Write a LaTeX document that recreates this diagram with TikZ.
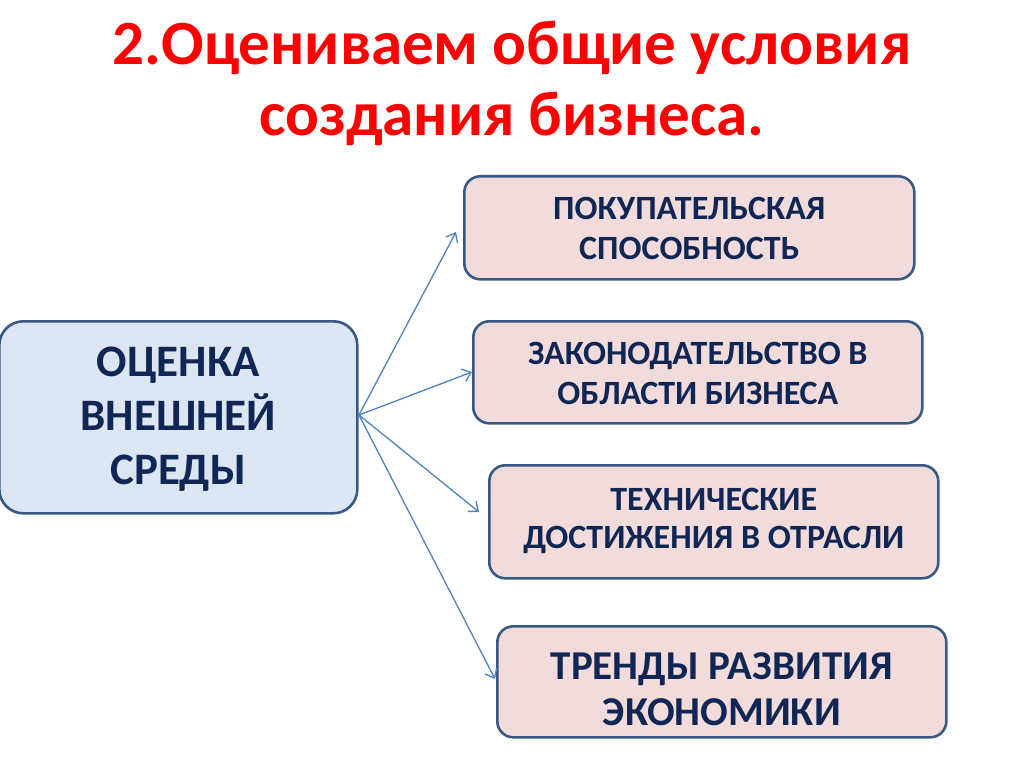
\documentclass[tikz,border=0pt]{standalone}
\usepackage{fontspec}
\usetikzlibrary{arrows.meta}
\setmainfont{Carlito}
\definecolor{edgec}{RGB}{56,88,134}
\definecolor{pinkf}{RGB}{242,220,219}
\definecolor{bluef}{RGB}{220,230,242}
\definecolor{txtc}{RGB}{16,38,84}
\definecolor{arrc}{RGB}{79,129,189}
\definecolor{titlec}{RGB}{255,0,0}
\begin{document}
\begin{tikzpicture}[x=1pt,y=-1pt,
  box/.style={draw=edgec,line width=2.6pt,rounded corners=16pt,fill=pinkf,inner sep=0pt,anchor=north west},
  boxtext/.style={text=txtc,align=center,inner sep=0pt},
  conn/.style={draw=arrc,line width=1.3pt,-{Straight Barb[length=8pt,width=13pt,line width=1.3pt]}}]
\useasboundingbox (0,0) rectangle (1024,767);
\node[text=titlec,font=\bfseries\fontsize{63}{71}\selectfont,align=center] (title) at (512,83)
  {2.Оцениваем общие условия\\создания бизнеса.};
\node[box,fill=bluef,rounded corners=24pt,minimum width=358pt,minimum height=192pt] (env) at (-2,320) {};
\node[boxtext,font=\bfseries\fontsize{45}{54}\selectfont] (envt) at ([yshift=-2pt]env.center) {ОЦЕНКА\\ВНЕШНЕЙ\\СРЕДЫ};
\node[box,minimum width=450pt,minimum height=103pt] (b1) at (463,175) {};
\node[boxtext,font=\bfseries\fontsize{34}{40}\selectfont] (t1) at ([yshift=-1pt]b1.center) {ПОКУПАТЕЛЬСКАЯ\\СПОСОБНОСТЬ};
\node[box,minimum width=449pt,minimum height=102pt] (b2) at (472,320) {};
\node[boxtext,font=\bfseries\fontsize{34}{40}\selectfont] (t2) at ([yshift=-1pt]b2.center) {ЗАКОНОДАТЕЛЬСТВО В\\ОБЛАСТИ БИЗНЕСА};
\node[box,minimum width=449pt,minimum height=113pt] (b3) at (488,464) {};
\node[boxtext,font=\bfseries\fontsize{34}{38}\selectfont] (t3) at ([yshift=1pt]b3.center) {ТЕХНИЧЕСКИЕ\\ДОСТИЖЕНИЯ В ОТРАСЛИ};
\node[box,minimum width=449pt,minimum height=111pt] (b4) at (496,625) {};
\node[boxtext,font=\bfseries\fontsize{41}{46}\selectfont] (t4) at ([yshift=-7pt]b4.center) {ТРЕНДЫ РАЗВИТИЯ\\ЭКОНОМИКИ};
\coordinate (src) at (359,415);
\coordinate (e1) at (456,232);
\coordinate (e2) at (472,372);
\coordinate (e3) at (479,512);
\coordinate (e4) at (495,679);
\draw[conn] (src) -- (e1);
\draw[conn] (src) -- (e2);
\draw[conn] (src) -- (e3);
\draw[conn] (src) -- (e4);
\end{tikzpicture}
\end{document}
